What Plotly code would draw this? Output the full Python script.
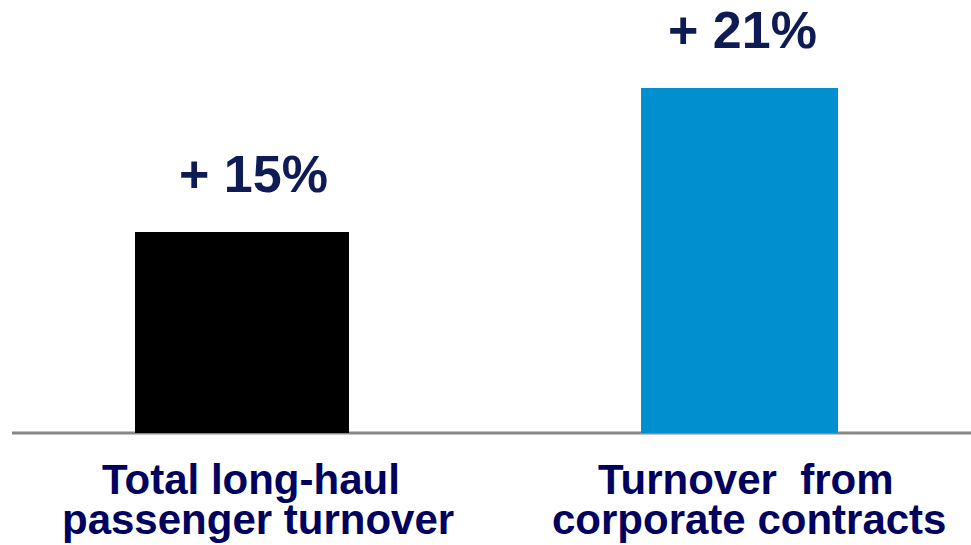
import plotly.graph_objects as go

# Growth figures per business segment
categories = ["Total long-haul passenger turnover", "Turnover  from corporate contracts"]
label_lines = [["Total long-haul", "passenger turnover"], ["Turnover  from", "corporate contracts"]]
growth_pct = [15, 21]
value_labels = ["+ 15%", "+ 21%"]

bar_colors = ["#000000", "#008fcf"]
bar_widths = [0.43, 0.396]
value_color = "#0f1b55"
category_color = "#00005e"
font_family = "Liberation Sans, Arial, sans-serif"

W, H = 971, 545
plot_h = 433  # pixel height of the plotting area (top margin is zero)

x_pos = list(range(len(categories)))

fig = go.Figure(
    go.Bar(
        x=x_pos,
        y=growth_pct,
        width=bar_widths,
        marker=dict(color=bar_colors, line=dict(width=0)),
        hoverinfo="skip",
    )
)

# Value labels above each bar
value_shift_x = [12, 3]
for i, (v, txt) in enumerate(zip(growth_pct, value_labels)):
    fig.add_annotation(
        x=x_pos[i], y=v, xref="x", yref="y",
        text=f"<b>{txt}</b>", showarrow=False,
        xanchor="center", yanchor="middle",
        xshift=value_shift_x[i], yshift=58,
        font=dict(family=font_family, size=52, color=value_color),
    )

# Two-line category captions under the baseline
line_centers_px = [479.4, 519.4]
cat_shift_x = [[9, 16], [6, 9]]
for i, lines in enumerate(label_lines):
    for j, line in enumerate(lines):
        fig.add_annotation(
            x=x_pos[i], y=0, xref="x", yref="paper",
            text=f"<b>{line}</b>", showarrow=False,
            xanchor="center", yanchor="middle",
            xshift=cat_shift_x[i][j], yshift=-(line_centers_px[j] - plot_h),
            font=dict(family=font_family, size=42, color=category_color),
        )

# Grey baseline across the plotting area
fig.add_shape(
    type="line", xref="paper", yref="paper",
    x0=0, x1=1, y0=0, y1=0,
    line=dict(color="#888888", width=3), layer="below",
)

fig.update_layout(
    width=W, height=H,
    margin=dict(l=12, r=0, t=0, b=H - plot_h),
    paper_bgcolor="white", plot_bgcolor="white",
    showlegend=False,
    bargap=0,
    xaxis=dict(range=[-0.462, 1.465], visible=False, fixedrange=True),
    yaxis=dict(range=[6.625, 6.625 + plot_h / 24.0], visible=False, fixedrange=True),
)

fig.write_html("out.html", config={"displayModeBar": False})
